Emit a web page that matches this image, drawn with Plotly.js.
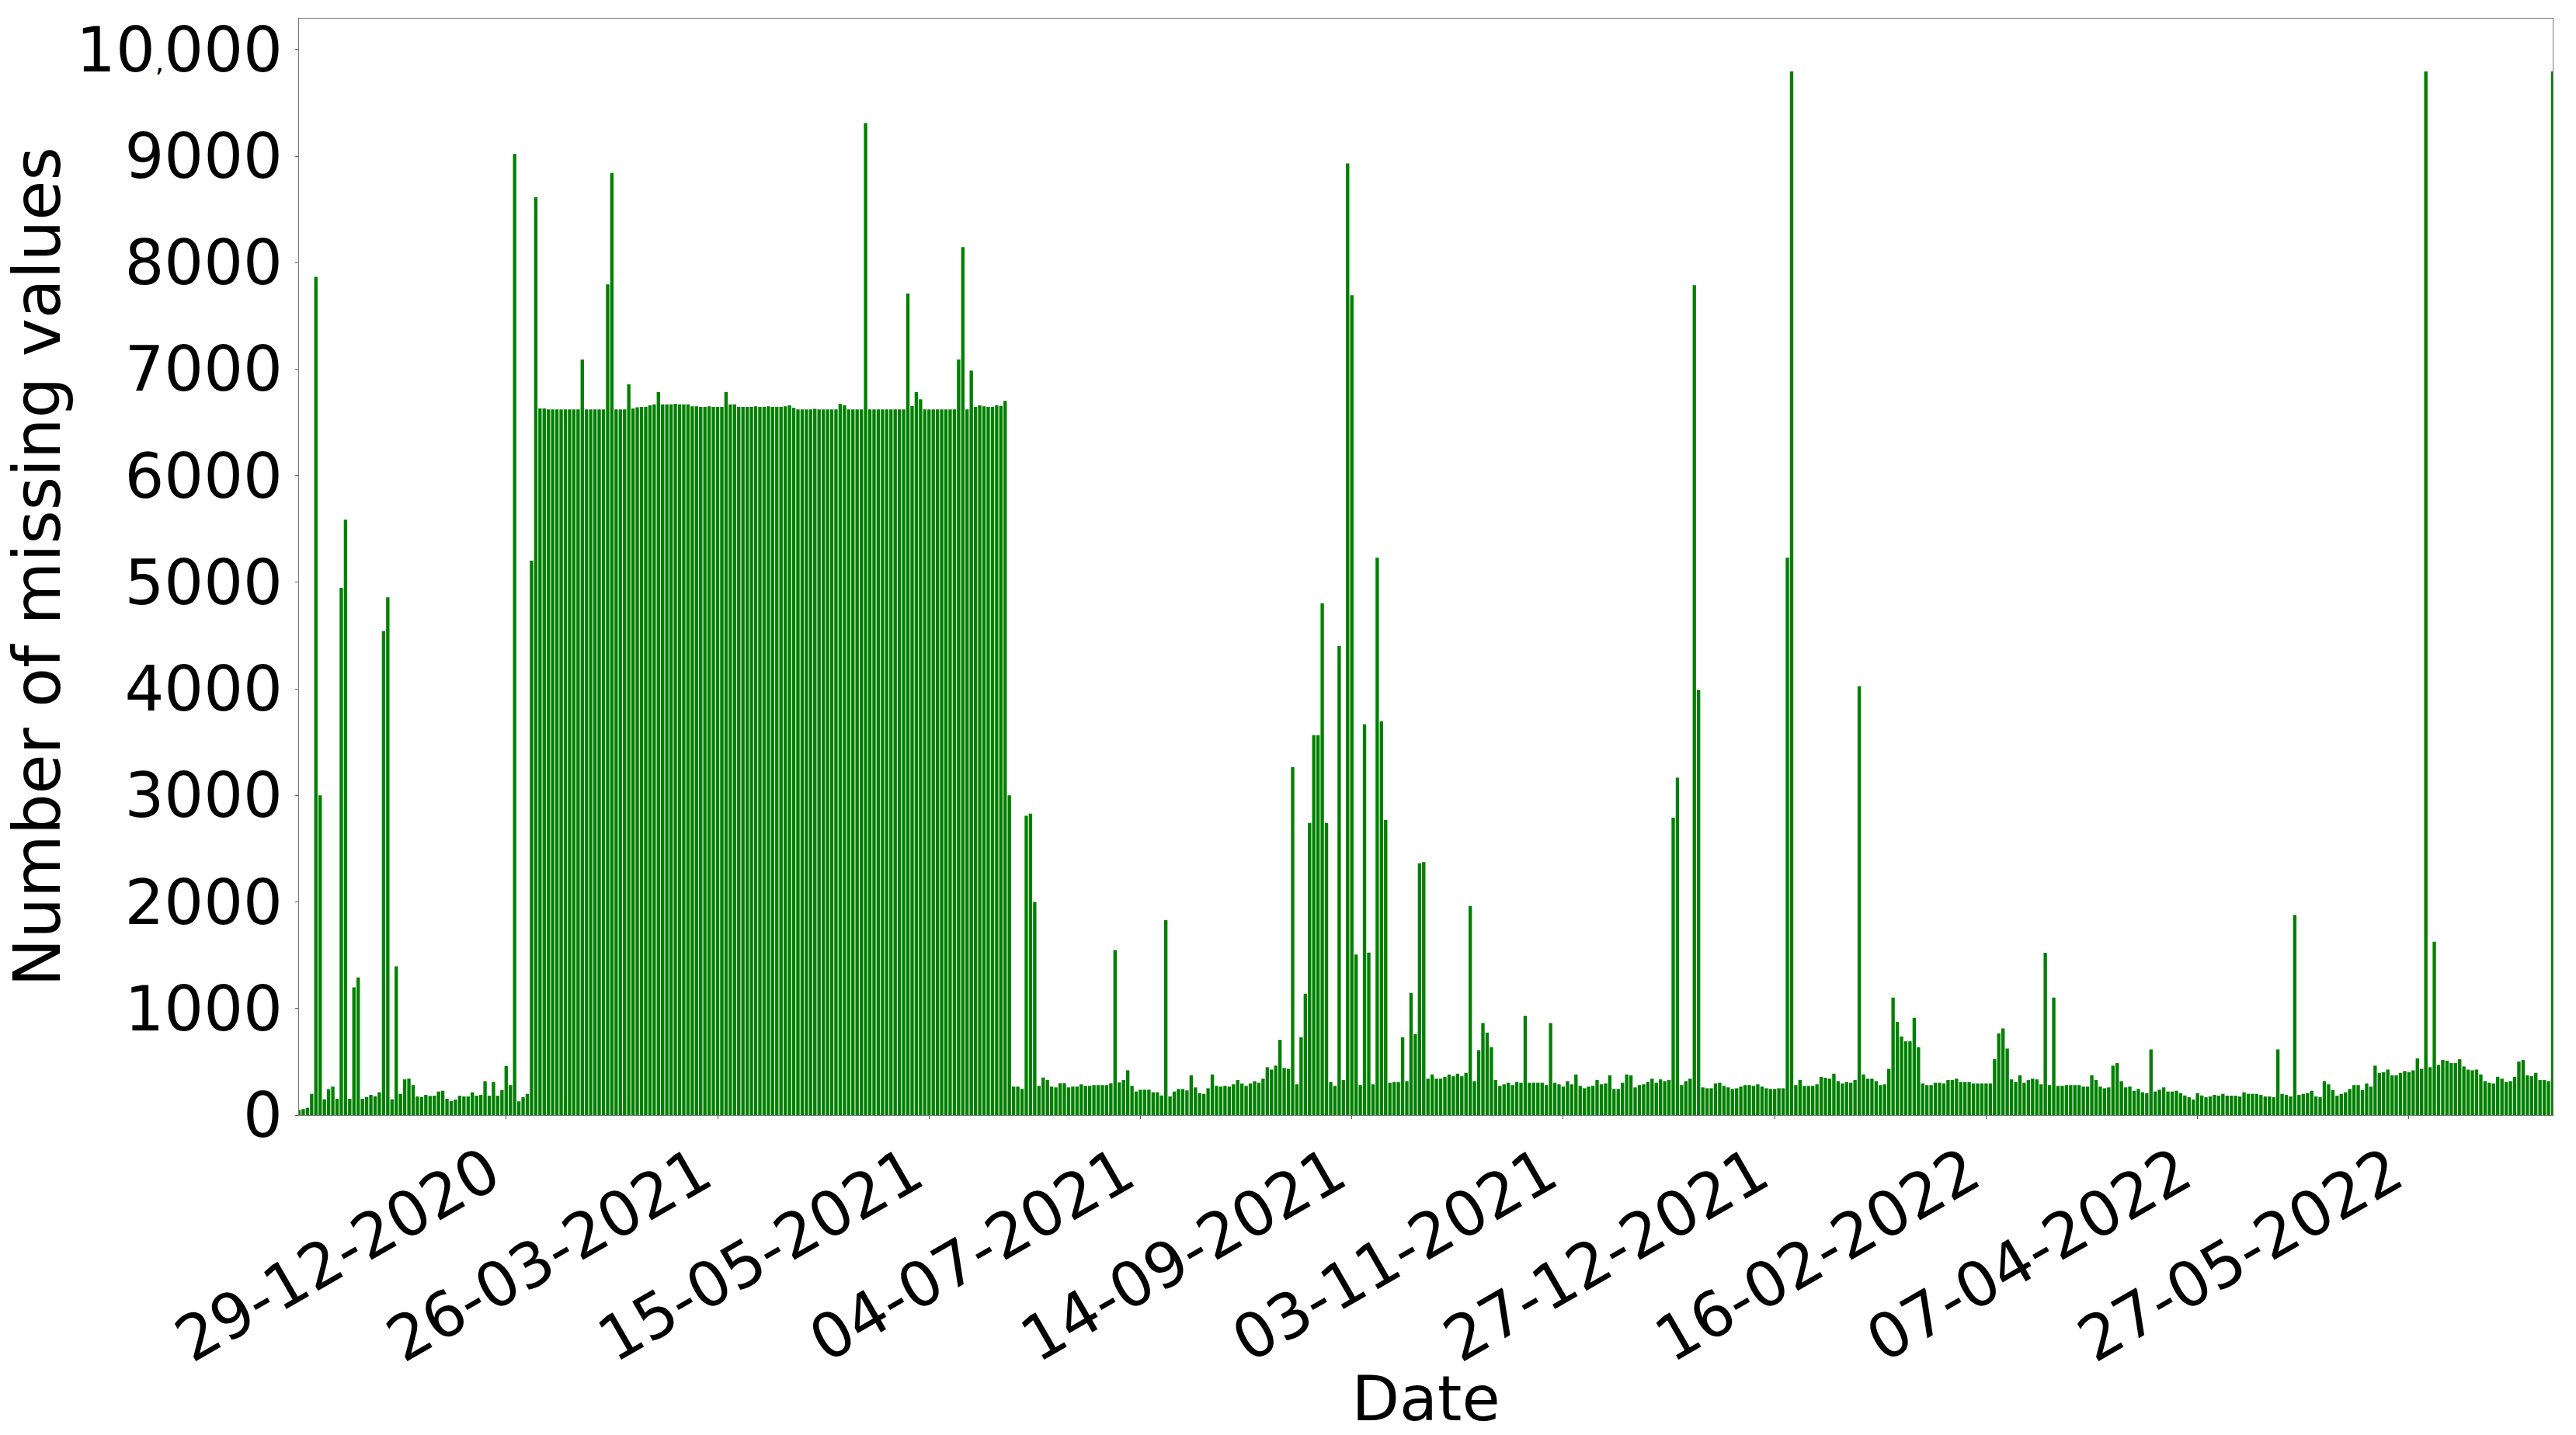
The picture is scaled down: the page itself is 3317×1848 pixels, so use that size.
<!DOCTYPE html>
<html>
<head>
<meta charset="utf-8">
<script src="https://cdn.plot.ly/plotly-3.0.1.min.js"></script>
<style>
  html, body { margin: 0; padding: 0; background: #fff; }
  #chart { width: 3317px; height: 1848px; }
</style>
</head>
<body>
<div id="chart"></div>
<script>
// daily number of missing values, one bar per recorded day (534 days)
const missingCounts = [
  49, 56, 68, 199, 7867, 3000, 148, 243, 267, 153,
  4949, 5587, 153, 1199, 1291, 153, 170, 189, 177, 214,
  4542, 4859, 148, 1395, 199, 335, 342, 282, 175, 170,
  189, 180, 182, 221, 228, 153, 131, 146, 182, 175,
  175, 214, 182, 189, 318, 182, 311, 182, 235, 461,
  282, 9021, 129, 167, 199, 5204, 8614, 6632, 6632, 6623,
  6623, 6623, 6623, 6623, 6623, 6623, 6623, 7091, 6623, 6623,
  6623, 6623, 6623, 7796, 8841, 6623, 6623, 6623, 6859, 6632,
  6642, 6646, 6646, 6661, 6670, 6784, 6670, 6670, 6670, 6675,
  6670, 6670, 6670, 6651, 6651, 6646, 6646, 6651, 6646, 6646,
  6646, 6784, 6670, 6670, 6646, 6646, 6646, 6646, 6651, 6646,
  6646, 6651, 6646, 6646, 6646, 6651, 6661, 6637, 6623, 6623,
  6623, 6623, 6628, 6623, 6623, 6623, 6623, 6623, 6675, 6661,
  6623, 6623, 6623, 6623, 9309, 6623, 6623, 6623, 6623, 6623,
  6623, 6623, 6623, 6623, 7711, 6656, 6784, 6717, 6623, 6623,
  6623, 6623, 6623, 6623, 6623, 6623, 7091, 8146, 6623, 6987,
  6646, 6661, 6651, 6646, 6646, 6661, 6656, 6703, 3000, 267,
  267, 245, 2810, 2830, 2000, 274, 352, 328, 267, 260,
  298, 298, 260, 267, 267, 289, 274, 274, 282, 282,
  282, 282, 298, 1548, 306, 328, 420, 274, 221, 238,
  238, 238, 214, 214, 184, 1830, 175, 221, 245, 245,
  231, 374, 260, 206, 199, 252, 381, 274, 267, 274,
  267, 289, 328, 296, 274, 296, 318, 303, 342, 449,
  427, 464, 706, 442, 434, 3265, 289, 731, 1138, 2742,
  3566, 3566, 4803, 2742, 311, 274, 4402, 328, 8930, 7694,
  1506, 282, 3667, 1525, 289, 5231, 3695, 2770, 303, 311,
  311, 731, 318, 1146, 760, 2363, 2374, 342, 381, 342,
  342, 357, 381, 364, 388, 364, 396, 1962, 318, 609,
  864, 774, 638, 328, 274, 289, 303, 282, 311, 303,
  932, 303, 303, 303, 303, 282, 864, 303, 289, 267,
  318, 289, 381, 274, 252, 267, 274, 328, 289, 296,
  374, 245, 245, 303, 381, 374, 260, 282, 289, 311,
  342, 303, 335, 318, 328, 2792, 3166, 282, 318, 342,
  7789, 3990, 260, 252, 252, 296, 303, 274, 260, 245,
  252, 267, 282, 282, 274, 289, 267, 252, 245, 245,
  252, 252, 5231, 9794, 282, 328, 274, 274, 274, 289,
  357, 349, 342, 388, 318, 296, 311, 303, 328, 4024,
  381, 342, 342, 318, 282, 289, 434, 1102, 874, 738,
  692, 692, 913, 638, 296, 282, 282, 303, 303, 296,
  328, 328, 342, 311, 311, 311, 296, 296, 296, 296,
  296, 524, 767, 813, 624, 335, 311, 374, 303, 328,
  342, 335, 289, 1524, 282, 1102, 274, 274, 282, 282,
  282, 282, 267, 267, 374, 328, 267, 252, 260, 464,
  488, 318, 260, 267, 228, 245, 214, 206, 616, 221,
  238, 260, 221, 221, 228, 206, 184, 167, 146, 206,
  184, 167, 175, 189, 182, 199, 182, 182, 182, 175,
  214, 199, 199, 199, 189, 175, 175, 167, 616, 199,
  189, 175, 1878, 189, 199, 206, 228, 175, 167, 318,
  289, 235, 182, 199, 214, 245, 282, 282, 235, 296,
  267, 464, 396, 403, 427, 374, 374, 396, 413, 405,
  420, 532, 434, 9794, 449, 1627, 471, 517, 510, 488,
  488, 524, 456, 427, 420, 427, 381, 318, 303, 296,
  359, 342, 311, 318, 359, 502, 517, 374, 366, 396,
  328, 328, 318, 9794
];

// every 50th day carries a date label
const tickIdx = [49, 99, 149, 199, 249, 299, 349, 399, 449, 499];
const tickDates = [
  '29-12-2020', '26-03-2021', '15-05-2021', '04-07-2021', '14-09-2021',
  '03-11-2021', '27-12-2021', '16-02-2022', '07-04-2022', '27-05-2022'
];

const yTicks = [0, 1000, 2000, 3000, 4000, 5000, 6000, 7000, 8000, 9000, 10000];
// the top label has a squeezed comma in the original
const yTickText = ['0', '1000', '2000', '3000', '4000', '5000', '6000', '7000', '8000', '9000',
  '10<span style="font-size:36px">,</span>000'];

const dayIdx = missingCounts.map((_, i) => i);
const font = 'DejaVu Sans, Liberation Sans, sans-serif';

Plotly.newPlot('chart', [{
  type: 'bar',
  x: dayIdx,
  y: missingCounts,
  marker: { color: '#008000', line: { width: 0 } },
  hoverinfo: 'skip'
}], {
  width: 3317,
  height: 1848,
  margin: { l: 385, r: 30, t: 24, b: 412 },
  paper_bgcolor: '#ffffff',
  plot_bgcolor: '#ffffff',
  bargap: 0.2,
  showlegend: false,
  font: { family: font, size: 80, color: '#000' },
  xaxis: {
    range: [0, 533],
    tickmode: 'array',
    tickvals: tickIdx,
    ticktext: tickDates,
    tickangle: -30,
    ticklabelshift: -22,
    ticklabelstandoff: -8,
    ticks: 'outside',
    ticklen: 4,
    tickwidth: 1,
    tickcolor: '#555',
    showgrid: false,
    zeroline: false,
    showline: true,
    mirror: true,
    linecolor: '#777',
    linewidth: 1,
    tickfont: { family: font, size: 80, color: '#000' },
    title: { text: 'Date', font: { family: font, size: 80, color: '#000' }, standoff: 4 },
    automargin: false
  },
  yaxis: {
    range: [0, 10290],
    tickmode: 'array',
    tickvals: yTicks,
    ticktext: yTickText,
    ticks: 'outside',
    ticklen: 4,
    tickwidth: 1,
    tickcolor: '#555',
    showgrid: false,
    zeroline: false,
    showline: true,
    mirror: true,
    linecolor: '#777',
    linewidth: 1,
    tickfont: { family: font, size: 80, color: '#000' },
    title: { text: 'Number of missing values', font: { family: font, size: 83, color: '#000' }, standoff: 3 },
    automargin: false
  }
}, { displayModeBar: false, staticPlot: true });
</script>
</body>
</html>
